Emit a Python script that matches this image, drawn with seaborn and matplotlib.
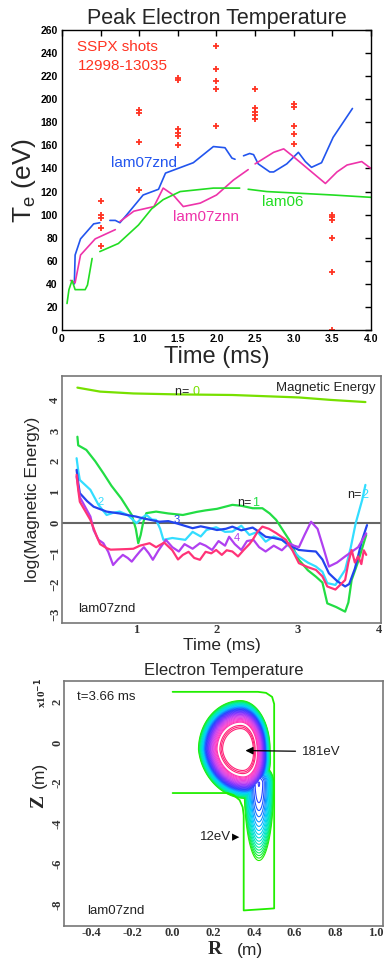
import numpy as np
import pandas as pd
import matplotlib
matplotlib.use("Agg")
import matplotlib.pyplot as plt
from matplotlib.colors import LinearSegmentedColormap
import seaborn as sns

nan = np.nan
# ---------------- Panel 1 data: Peak electron temperature ----------------
shot_t = [0.5]*5 + [1.0]*4 + [1.5]*6 + [2.0]*5 + [2.5]*5 + [3.0]*5 + [3.5]*6
shot_Te = [112, 100, 97, 88, 73,
           191, 188, 163, 121,
           218, 217, 174, 171, 168, 160,
           246, 226, 216, 209, 177,
           209, 192, 189, 186, 183,
           196, 193, 177, 170, 161,
           100, 98, 95, 80, 50, 0]

znd_t = [0.16, 0.17, 0.24, 0.41, 0.49, nan, 0.62, 0.69, 0.75, 0.84, 1.05, 1.25, 1.34, 1.50, 1.70, 1.96, 2.11, 2.20, 2.24,
         nan, 2.35, 2.43, 2.48, 2.54, 2.69, 2.74, 2.91, 3.06, 3.15, 3.23, 3.36, 3.51, 3.66, 3.76]
znd_Te = [40, 65, 79, 92, 93, nan, 95, 95, 93, 100, 117, 122, 136, 140, 145, 159, 158, 149, 148,
          nan, 151, 153, 152, 144, 137, 137, 144, 154, 146, 141, 145, 167, 182, 192]
znn_t = [0.11, 0.17, 0.24, 0.43, 0.69, nan, 0.75, 0.93, 1.19, 1.31, 1.44, 1.57, 1.79, 2.00, 2.22, 2.41,
         nan, 2.50, 2.74, 2.87, 3.00, 3.41, 3.56, 3.69, 3.88, 4.0]
znn_Te = [43, 41, 65, 79, 87, nan, 94, 103, 107, 123, 117, 107, 110, 117, 130, 139,
          nan, 144, 154, 157, 150, 127, 137, 143, 146, 140]
l06_t = [0.065, 0.09, 0.13, 0.17, 0.30, 0.33, 0.39, nan, 0.49, 0.73, 0.99, 1.16, 1.31, 1.53, 1.96, 2.30,
         nan, 2.41, 2.65, 3.51, 4.0]
l06_Te = [23, 35, 43, 35, 35, 39, 62, nan, 68, 75, 91, 105, 113, 120, 123, 123,
          nan, 122, 120, 117, 115]
p1_xticks = [0, 0.5, 1.0, 1.5, 2.0, 2.5, 3.0, 3.5, 4.0]
p1_xticklabels = ["0", ".5", "1.0", "1.5", "2.0", "2.5", "3.0", "3.5", "4.0"]
p1_yticks = list(range(0, 261, 20))

# ---------------- Panel 2 data: log magnetic energy ----------------
n0_t = [0.28, 0.56, 0.97, 1.5, 2.19, 2.6, 3.01, 3.4, 3.83]
n0_y = [4.40, 4.27, 4.21, 4.18, 4.16, 4.12, 4.08, 4.0, 3.93]
n1_t = [0.28, 0.29, 0.39, 0.50, 0.60, 0.70, 0.82, 0.95, 1.00, 1.03, 1.06, 1.09, 1.13, 1.25, 1.40, 1.58, 1.75, 1.86,
        2.0, 2.19, 2.30, 2.44, 2.56, 2.65, 2.73, 2.89, 3.01, 3.12, 3.22, 3.30, 3.36, 3.47, 3.58, 3.62, 3.66, 3.74, 3.84]
n1_y = [2.80, 2.52, 2.37, 2.0, 1.61, 1.2, 0.79, 0.25, -0.2, -0.67, -0.4, 0.0, 0.31, 0.36, 0.30, 0.25, 0.35, 0.40,
        0.45, 0.58, 0.55, 0.47, 0.47, 0.3, 0.09, -0.56, -1.21, -1.55, -1.76, -1.95, -2.63, -2.75, -2.90, -2.6, -1.87, -1.27, -0.40]
n2_t = [0.27, 0.29, 0.31, 0.44, 0.54, 0.64, 0.72, 0.80, 0.90, 1.01, 1.07, 1.13, 1.20, 1.25, 1.30, 1.34, 1.45, 1.61,
        1.70, 1.80, 1.87, 1.99, 2.10, 2.19, 2.30, 2.40, 2.50, 2.60, 2.70, 2.80, 2.90, 3.01, 3.12, 3.22, 3.30, 3.36,
        3.46, 3.58, 3.65, 3.71, 3.79, 3.83]
n2_y = [2.10, 1.70, 1.39, 1.07, 0.58, 0.25, 0.32, 0.36, 0.25, -0.02, 0.15, 0.25, 0.1, 0.09, -0.2, -0.56, -0.5, -0.56,
        -0.3, -0.45, -0.24, -0.15, -0.3, -0.29, -0.1, -0.4, -0.3, -0.62, -0.45, -0.55, -0.8, -1.11, -1.3, -1.43, -1.6, -1.97,
        -2.03, -1.54, -0.8, -0.02, 0.74, 1.23]
n3_t = [0.27, 0.29, 0.31, 0.40, 0.48, 0.64, 0.80, 0.89, 1.00, 1.09, 1.20, 1.29, 1.40, 1.50, 1.60, 1.70, 1.80, 1.91,
        2.00, 2.11, 2.19, 2.30, 2.44, 2.52, 2.60, 2.70, 2.80, 2.90, 3.01, 3.12, 3.22, 3.30, 3.38, 3.48, 3.58, 3.63,
        3.70, 3.79, 3.85]
n3_y = [1.72, 1.29, 0.96, 0.7, 0.52, 0.36, 0.30, 0.25, 0.2, 0.14, 0.08, 0.03, 0.05, -0.02, -0.1, -0.18, -0.12, -0.18,
        -0.24, -0.2, -0.13, -0.25, -0.16, -0.3, -0.46, -0.5, -0.56, -0.75, -0.89, -0.92, -0.94, -1.2, -1.65, -1.9, -2.08, -2.0,
        -1.5, -0.56, -0.08]
n4_t = [0.27, 0.31, 0.44, 0.48, 0.54, 0.60, 0.66, 0.72, 0.78, 0.84, 0.90, 0.95, 1.00, 1.05, 1.10, 1.16, 1.21, 1.28,
        1.37, 1.45, 1.53, 1.60, 1.70, 1.79, 1.86, 1.94, 2.02, 2.10, 2.15, 2.22, 2.30, 2.37, 2.45, 2.52, 2.60, 2.70,
        2.80, 2.89, 2.95, 3.01, 3.08, 3.16, 3.24, 3.32, 3.38, 3.48, 3.58, 3.66, 3.74, 3.84]
n4_y = [1.50, 0.83, 0.20, -0.24, -0.56, -0.67, -0.95, -1.38, -1.2, -1.05, -1.15, -1.27, -1.1, -0.94, -0.8, -1.0, -1.21,
        -0.9, -0.56, -0.8, -0.94, -0.7, -0.85, -0.67, -0.75, -0.89, -0.6, -0.75, -0.46, -0.7, -0.89, -0.6, -0.56, -0.8,
        -0.94, -0.75, -0.9, -0.67, -0.75, -0.8, -0.4, 0.03, -0.2, -0.89, -1.43, -1.3, -1.1, -0.95, -0.8, -0.35]
n5_t = [0.27, 0.29, 0.31, 0.44, 0.52, 0.56, 0.64, 0.69, 0.80, 0.90, 0.97, 1.05, 1.17, 1.25, 1.35, 1.45, 1.52, 1.58,
        1.65, 1.72, 1.79, 1.86, 1.93, 1.99, 2.06, 2.12, 2.19, 2.26, 2.33, 2.40, 2.44, 2.50, 2.56, 2.64, 2.73, 2.85,
        2.93, 3.01, 3.12, 3.22, 3.30, 3.36, 3.46, 3.58, 3.62, 3.66, 3.70, 3.74, 3.78, 3.81, 3.84]
n5_y = [1.56, 1.07, 0.68, 0.09, -0.46, -0.70, -0.83, -0.88, -0.87, -0.86, -0.85, -0.75, -0.67, -0.8, -0.65, -0.9, -1.2,
        -1.05, -0.95, -1.15, -1.21, -0.95, -1.0, -0.89, -1.05, -0.9, -0.94, -1.1, -0.89, -0.7, -0.56, -0.3, -0.13, -0.2,
        -0.34, -0.56, -0.9, -1.32, -1.45, -1.54, -1.75, -2.08, -2.18, -1.87, -1.3, -0.89, -1.3, -1.1, -1.35, -0.9, -1.05]
mode_colors = {"0": "#77e000", "1": "#22dd44", "2": "#33ddff", "3": "#2244ee", "4": "#b040f0", "5": "#ff3377"}

# ---------------- Panel 3 data: electron temperature contours ----------------
T_peak = 181.0        # eV, central temperature
T_edge = 12.0         # eV, lowest contour
T_band_top = 128.0    # eV, top of the dense contour band
T_core_levels = [140.0, 145.0, 150.0]   # eV, isolated core contours
T_leg_peak = 72.0     # eV, temperature at top of the lower leg
blob_center = (0.335, -0.035)
blob_semi_R = (0.215, 0.150)   # left, right (m)
blob_semi_Z = (0.250, 0.250)   # above, below (m)
blob_lean = 0.10               # rightward shift of lower half per metre of depth
leg_center_R, leg_half_width = 0.425, 0.080
leg_top_Z, leg_length, leg_cap = -0.20, 0.42, 0.10
wall_R = [0.0, 0.42, 0.46, 0.49, 0.50, 0.50, 0.35, 0.35, 0.345, 0.33, 0.30, 0.27, 0.0]
wall_Z = [0.25, 0.25, 0.245, 0.225, 0.19, -0.82, -0.83, -0.36, -0.32, -0.285, -0.26, -0.25, -0.25]
p3_xticks = [-0.4, -0.2, 0.0, 0.2, 0.4, 0.6, 0.8, 1.0]
p3_yticks = [0.2, 0.0, -0.2, -0.4, -0.6, -0.8]
p3_yticklabels = ["2", "0", "-2", "-4", "-6", "-8"]

# ---------------- Figure ----------------
sns.set_theme(style="white")
plt.rcParams["font.family"] = ["Liberation Sans", "DejaVu Sans"]
fig = plt.figure(figsize=(3.86, 9.65), dpi=100)

def segdf(t, y):
    t = np.asarray(t, float); y = np.asarray(y, float)
    seg = np.cumsum(np.isnan(t))
    df = pd.DataFrame({"t": t, "y": y, "seg": seg})
    return df.dropna()

# ---- Panel 1
ax1 = fig.add_axes([0.1606, 0.658, 0.8005, 0.3109])
shots = pd.DataFrame({"t": shot_t, "Te": shot_Te})
for t, y, c in [(znd_t, znd_Te, "#2255ee"), (znn_t, znn_Te, "#ee33aa"), (l06_t, l06_Te, "#22dd22")]:
    sns.lineplot(data=segdf(t, y), x="t", y="y", units="seg", estimator=None, sort=False,
                 color=c, lw=1.2, ax=ax1, legend=False)
sns.scatterplot(data=shots, x="t", y="Te", marker="+", color="#ff3322", s=22, linewidth=1.3, ax=ax1, legend=False)
ax1.set_xlim(0, 4.0)
ax1.set_ylim(0, 260)
ax1.set_xticks(p1_xticks)
ax1.set_xticklabels(p1_xticklabels)
ax1.set_yticks(p1_yticks)
ax1.tick_params(direction="in", length=4, width=1, top=True, right=True, labelsize=7.5, pad=3, colors="black")
for lab in ax1.get_xticklabels() + ax1.get_yticklabels():
    lab.set_fontweight("bold")
for s in ax1.spines.values():
    s.set_color("black"); s.set_linewidth(1.0)
ax1.set_title("Peak Electron Temperature", fontsize=15.5, pad=4)
ax1.set_xlabel("Time (ms)", fontsize=17, labelpad=1)
ax1.set_ylabel(r"T$_\mathregular{e}$ (eV)", fontsize=19, labelpad=2)
ax1.text(0.2, 245, "SSPX shots", color="#ff3322", fontsize=11, va="center")
ax1.text(0.2, 229, "12998-13035", color="#ff3322", fontsize=11, va="center")
ax1.text(1.06, 145, "lam07znd", color="#2255ee", fontsize=11, ha="center", va="center")
ax1.text(1.86, 98, "lam07znn", color="#ee33aa", fontsize=11, ha="center", va="center")
ax1.text(2.86, 111, "lam06", color="#22dd22", fontsize=11, ha="center", va="center")

# ---- Panel 2
ax2 = fig.add_axes([0.1606, 0.3544, 0.826, 0.256])
frames = []
for n, t, y in [("0", n0_t, n0_y), ("1", n1_t, n1_y), ("2", n2_t, n2_y), ("3", n3_t, n3_y),
                ("4", n4_t, n4_y), ("5", n5_t, n5_y)]:
    frames.append(pd.DataFrame({"t": t, "logE": y, "n": n}))
me = pd.concat(frames, ignore_index=True)
ax2.axhline(0, color="#666666", lw=1.5, zorder=1)
sns.lineplot(data=me, x="t", y="logE", hue="n", palette=mode_colors, estimator=None, sort=False,
             lw=1.6, ax=ax2, legend=False)
ax2.set_xlim(0.09, 4.02)
ax2.set_ylim(-3.27, 4.78)
ax2.set_xticks([1, 2, 3, 4])
ax2.set_yticks([4, 3, 2, 1, 0, -1, -2, -3])
ax2.tick_params(direction="in", length=4, width=1, labelsize=9, pad=0.5, colors="#333333")
for lab in ax2.get_xticklabels():
    lab.set_fontfamily("Liberation Serif"); lab.set_fontweight("bold")
for lab in ax2.get_yticklabels():
    lab.set_fontfamily("Liberation Serif"); lab.set_fontweight("bold"); lab.set_rotation(90); lab.set_va("center")
for s in ax2.spines.values():
    s.set_color("#777777"); s.set_linewidth(1.2)
ax2.set_xlabel("Time (ms)", fontsize=12.5, labelpad=2)
ax2.set_ylabel("log(Magnetic Energy)", fontsize=12.5, labelpad=7)
ax2.text(3.96, 4.4, "Magnetic Energy", fontsize=9.5, ha="right", va="center", color="#222222")
ax2.text(1.7, 4.27, "n= ", fontsize=9, ha="right", va="center", color="#222222")
ax2.text(1.7, 4.27, "0", fontsize=9, ha="left", va="center", color=mode_colors["0"])
ax2.text(2.43, 0.64, "n=", fontsize=9, ha="right", va="center", color="#222222")
ax2.text(2.43, 0.64, "1", fontsize=9, ha="left", va="center", color=mode_colors["1"])
ax2.text(3.78, 0.9, "n=", fontsize=9, ha="right", va="center", color="#222222")
ax2.text(3.78, 0.9, "2", fontsize=9, ha="left", va="center", color=mode_colors["2"])
ax2.text(0.56, 0.67, "2", fontsize=8, ha="center", va="center", color=mode_colors["2"])
ax2.text(1.5, 0.09, "3", fontsize=8, ha="center", va="center", color=mode_colors["3"])
ax2.text(2.25, -0.5, "4", fontsize=8, ha="center", va="center", color=mode_colors["4"])
ax2.text(0.29, -2.81, "lam07znd", fontsize=9.5, ha="left", va="center", color="#222222")

# ---- Panel 3
ax3 = fig.add_axes([0.1658, 0.0404, 0.8264, 0.2542])
Rg, Zg = np.meshgrid(np.linspace(0.0, 0.52, 450), np.linspace(-0.9, 0.3, 800))
Rc = blob_center[0] + blob_lean * np.clip(blob_center[1] - Zg, 0, None)
a = np.where(Rg < Rc, blob_semi_R[0], blob_semi_R[1])
b = np.where(Zg > blob_center[1], blob_semi_Z[0], blob_semi_Z[1])
d1 = ((Rg - Rc) / a) ** 2 + ((Zg - blob_center[1]) / b) ** 2
T_blob = T_peak * np.clip(1 - d1, 0, None)
hz = np.where(Zg < leg_top_Z, leg_length, leg_cap)
d2 = ((Rg - leg_center_R) / leg_half_width) ** 2 + ((Zg - leg_top_Z) / hz) ** 2
T_leg = T_leg_peak * np.clip(1 - d2, 0, None)
T_field = np.maximum(T_blob, T_leg)
cmap = LinearSegmentedColormap.from_list("te", ["#22ee00", "#00eeaa", "#00ccff", "#2244ff", "#7733ff",
                                                 "#cc44ee", "#ff44cc", "#ff2277"])
levels = list(np.linspace(T_edge, T_band_top, 32)) + T_core_levels
ax3.contour(Rg, Zg, T_field, levels=levels, cmap=cmap, vmin=T_edge, vmax=T_core_levels[0], linewidths=0.8)
wall = pd.DataFrame({"R": wall_R, "Z": wall_Z})
sns.lineplot(data=wall, x="R", y="Z", sort=False, estimator=None, color="#22ee00", lw=1.3, ax=ax3, legend=False)
ax3.set_xlim(-0.535, 1.036)
ax3.set_ylim(-0.907, 0.305)
ax3.set_xticks(p3_xticks)
ax3.set_xticklabels([f"{v:.1f}" for v in p3_xticks])
ax3.set_yticks(p3_yticks)
ax3.set_yticklabels(p3_yticklabels)
ax3.tick_params(direction="in", length=4, width=1, labelsize=9, pad=0.5, colors="#333333")
for lab in ax3.get_xticklabels():
    lab.set_fontfamily("Liberation Serif"); lab.set_fontweight("bold")
for lab in ax3.get_yticklabels():
    lab.set_fontfamily("Liberation Serif"); lab.set_fontweight("bold"); lab.set_rotation(90); lab.set_va("center")
for s in ax3.spines.values():
    s.set_color("#777777"); s.set_linewidth(1.2)
ax3.set_xlabel(""); ax3.set_ylabel("")
ax3.set_title("Electron Temperature", fontsize=12, pad=4)
ax3.annotate("181eV", xy=(0.345, -0.04), xytext=(0.635, -0.045), fontsize=9.5, va="center", ha="left",
             color="#222222", arrowprops=dict(arrowstyle="-|>", color="black", lw=0.9, mutation_scale=11))
ax3.annotate("12eV", xy=(0.342, -0.468), xytext=(0.135, -0.468), fontsize=9.5, va="center", ha="left",
             color="#222222", arrowprops=dict(arrowstyle="-|>", color="black", lw=0.0, mutation_scale=13))
ax3.text(-0.47, 0.226, "t=3.66 ms", fontsize=9.5, va="center", ha="left", color="#222222")
ax3.text(-0.42, -0.835, "lam07znd", fontsize=9.5, va="center", ha="left", color="#222222")
fig.text(215 / 386, 1 - 950 / 965, "R", fontsize=14, fontweight="bold", family="Liberation Serif",
         ha="center", va="center")
fig.text(250 / 386, 1 - 950 / 965, "(m)", fontsize=12.5, ha="center", va="center")
fig.text(39 / 386, 1 - 802 / 965, "Z", fontsize=14, fontweight="bold", family="Liberation Serif",
         ha="center", va="center", rotation=90)
fig.text(39 / 386, 1 - 775 / 965, "(m)", fontsize=12.5, ha="center", va="center", rotation=90)
fig.text(41 / 386, 1 - 693 / 965, r"x10$^{\mathbf{-1}}$", fontsize=8, fontweight="bold", family="Liberation Serif",
         ha="center", va="center", rotation=90)

fig.savefig("out.png", dpi=100)
